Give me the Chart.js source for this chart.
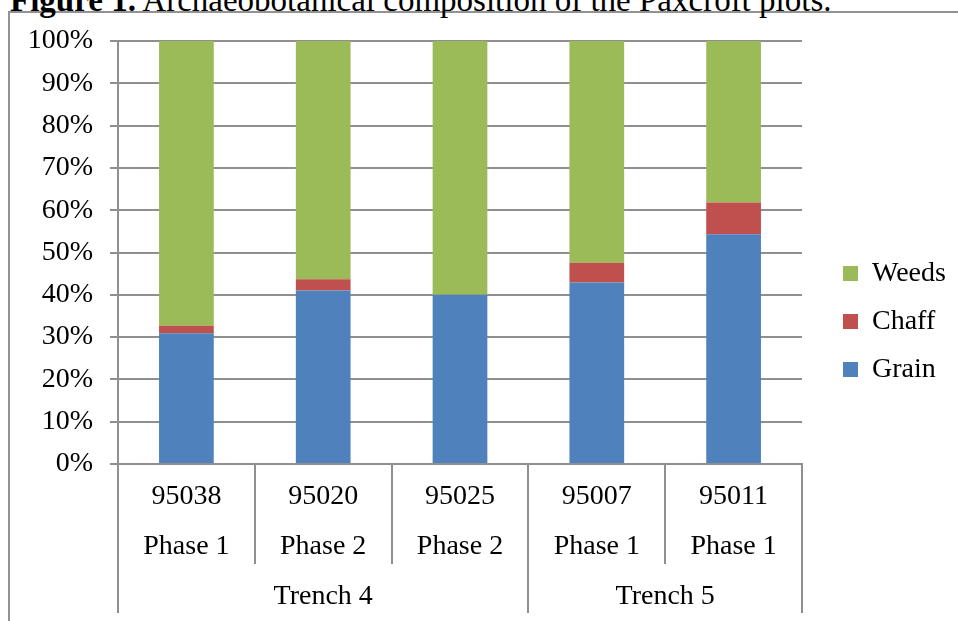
<!DOCTYPE html>
<html>
<head>
<meta charset="utf-8">
<script src="https://cdn.jsdelivr.net/npm/chart.js@4.4.1/dist/chart.umd.min.js"></script>
<style>
  html, body { margin: 0; padding: 0; width: 958px; height: 621px; overflow: hidden; background: #fff; }
  #frame { position: absolute; left: 8px; top: 11px; width: 2000px; height: 2000px;
           border-left: 2px solid #929292; border-top: 2px solid #929292; }
  #title { position: absolute; left: 10px; top: -16px; font-family: "Liberation Serif", serif;
           font-size: 33px; line-height: 33px; white-space: nowrap; color: #000; }
  #c { position: absolute; left: 0; top: 0; }
</style>
</head>
<body>
<div id="frame"></div>
<div id="title"><b>Figure 1.</b> Archaeobotanical composition of the Paxcroft plots.</div>
<canvas id="c" width="958" height="621"></canvas>
<script>
// ---- data ----
const sampleIds = ['95038', '95020', '95025', '95007', '95011'];
const phases = ['Phase 1', 'Phase 2', 'Phase 2', 'Phase 1', 'Phase 1'];
const groups = ['Trench 4', 'Trench 5'];
const groupSpans = [3, 2];
const grain = [30.9, 41.0, 40.0, 42.9, 54.3];
const chaff = [1.8, 2.7, 0.0, 4.7, 7.5];
const weeds = [67.3, 56.3, 60.0, 52.4, 38.2];
const seriesNames = ['Grain', 'Chaff', 'Weeds'];

const FONT = 'Liberation Serif';
const FS = 28;
const GRID = '#8f8f8f';
const PLOT_RIGHT = 802;
const LEGEND_GAP = 21;

const labels = sampleIds.map((s, i) => [s, phases[i]]);

const groupPlugin = {
  id: 'groupPlugin',
  afterDraw(chart) {
    const xs = chart.scales.x;
    const ctx = chart.ctx;
    const n = labels.length;
    const step = (xs.right - xs.left) / n;
    const yTop = xs.top + 100;
    const yBot = 613;
    ctx.save();
    ctx.strokeStyle = GRID;
    ctx.lineWidth = 2;
    let idx = 0;
    const bounds = [0];
    groupSpans.forEach(s => { idx += s; bounds.push(idx); });
    bounds.forEach(b => {
      const x = Math.round(xs.left + b * step);
      ctx.beginPath();
      ctx.moveTo(x, yTop - 1);
      ctx.lineTo(x, yBot);
      ctx.stroke();
    });
    ctx.fillStyle = '#000';
    ctx.font = FS + 'px "' + FONT + '"';
    ctx.textAlign = 'center';
    ctx.textBaseline = 'middle';
    groups.forEach((g, i) => {
      const x0 = xs.left + bounds[i] * step;
      const x1 = xs.left + bounds[i + 1] * step;
      ctx.fillText(g, (x0 + x1) / 2, 597);
    });
    ctx.restore();
  }
};

const chart = new Chart(document.getElementById('c'), {
  type: 'bar',
  data: {
    labels: labels,
    datasets: [
      { label: seriesNames[0], data: grain, backgroundColor: '#4F81BD' },
      { label: seriesNames[1], data: chaff, backgroundColor: '#C0504D' },
      { label: seriesNames[2], data: weeds, backgroundColor: '#9BBB59' }
    ]
  },
  options: {
    responsive: false,
    animation: false,
    devicePixelRatio: 1,
    datasets: { bar: { categoryPercentage: 1.0, barPercentage: 0.4 } },
    layout: { padding: { top: 41, bottom: 19, left: 0, right: 5 } },
    plugins: {
      tooltip: { enabled: false },
      legend: {
        position: 'right',
        align: 'center',
        reverse: true,
        labels: {
          boxWidth: 15, boxHeight: 15, padding: 20, color: '#000',
          font: { family: FONT, size: FS }
        }
      }
    },
    scales: {
      x: {
        stacked: true,
        offset: true,
        grid: { display: true, drawOnChartArea: false, drawTicks: true, tickLength: 100,
                color: GRID, lineWidth: 2, offset: true },
        border: { display: true, color: GRID, width: 2 },
        ticks: { color: '#000', font: { family: FONT, size: FS, lineHeight: 50 / FS },
                 padding: -92, maxRotation: 0, autoSkip: false },
        afterFit(s) { s.height = 138; }
      },
      y: {
        stacked: true,
        min: 0, max: 100,
        grid: { color: GRID, lineWidth: 2, tickLength: 8 },
        border: { display: true, color: GRID, width: 2 },
        ticks: { stepSize: 10, color: '#000', padding: 17,
                 font: { family: FONT, size: FS },
                 callback: v => v + '%' },
        afterFit(s) { s.width = 118; }
      },
      pad: {
        type: 'linear',
        position: 'right',
        display: true,
        grid: { display: false },
        border: { display: false },
        ticks: { display: false },
        afterFit(s) { s.width = LEGEND_GAP; }
      }
    }
  },
  plugins: [groupPlugin]
});

// fit the right padding so the plot area ends where the reference's does
const pr = 958 - PLOT_RIGHT - chart.legend.width - LEGEND_GAP;
chart.options.layout.padding.right = pr;
chart.update('none');
</script>
</body>
</html>
